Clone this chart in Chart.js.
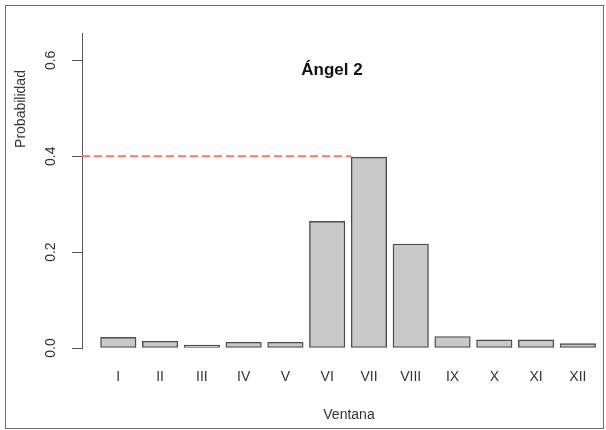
<!DOCTYPE html>
<html>
<head>
<meta charset="utf-8">
<script src="https://cdn.jsdelivr.net/npm/chart.js@4.4.1/dist/chart.umd.min.js"></script>
<style>
  html, body { margin: 0; padding: 0; background: #fff; overflow: hidden; }
  #wrap { position: relative; width: 606px; height: 430px; overflow: hidden; }
  #chart { position: absolute; left: 0; top: 0; }
  /* gray frame around the whole figure */
  #frame { position: absolute; left: 5px; top: 5px; width: 599px; height: 424px; box-sizing: border-box; border: 1.5px solid #6e6e6e; pointer-events: none; }
</style>
</head>
<body>
<div id="wrap">
  <canvas id="chart" width="616" height="430"></canvas>
  <div id="frame"></div>
</div>
<script>
// Data
const ventanas = ['I', 'II', 'III', 'IV', 'V', 'VI', 'VII', 'VIII', 'IX', 'X', 'XI', 'XII'];
const probabilidad = [0.022, 0.014, 0.006, 0.012, 0.012, 0.264, 0.398, 0.217, 0.024, 0.017, 0.017, 0.009];
const yTicks = [0, 0.2, 0.4, 0.6];
const umbral = 0.4;
const titulo = 'Ángel 2';

// x positions of the bars are just 1..12, axis limits leave the gap R puts before the first bar
const xMin = 0.131, xMax = 12.913;
const mitadBarra = 0.425; // half bar width, in x units
const idxMax = probabilidad.indexOf(Math.max(...probabilidad));

Chart.defaults.font.family = '"Liberation Sans", Arial, Helvetica, sans-serif';
Chart.defaults.font.size = 14;
Chart.defaults.color = '#333';

// title and y label are placed like in the R figure, not centred on the plot
const textos = {
  id: 'textos',
  afterDraw(chart) {
    const ctx = chart.ctx;
    ctx.save();
    ctx.fillStyle = '#111';
    ctx.textAlign = 'center';
    ctx.textBaseline = 'alphabetic';
    ctx.font = 'bold 17px "Liberation Sans", Arial, sans-serif';
    ctx.fillText(titulo, 332, 75);

    ctx.fillStyle = '#333';
    ctx.font = '14px "Liberation Sans", Arial, sans-serif';
    ctx.translate(25, 109);
    ctx.rotate(-Math.PI / 2);
    ctx.fillText('Probabilidad', 0, 0);
    ctx.restore();
  }
};

const ctx = document.getElementById('chart').getContext('2d');
new Chart(ctx, {
  type: 'bar',
  data: {
    datasets: [{
      type: 'line',
      data: [{ x: xMin, y: umbral }, { x: idxMax + 1 - mitadBarra, y: umbral }],
      borderColor: '#f47c5c',
      borderWidth: 2,
      borderDash: [8, 4],
      pointRadius: 0,
      order: 0
    }, {
      type: 'bar',
      data: probabilidad.map((v, i) => ({ x: i + 1, y: v })),
      backgroundColor: '#c9c9c9',
      borderColor: '#4d4d4d',
      borderWidth: 1.4,
      borderSkipped: false,
      barThickness: 35.5,
      order: 1
    }]
  },
  options: {
    responsive: false,
    animation: false,
    layout: { padding: { top: 33, left: 0, right: 0, bottom: 0 } },
    plugins: {
      legend: { display: false },
      tooltip: { enabled: false }
    },
    scales: {
      x: {
        type: 'linear',
        offset: false,
        min: xMin,
        max: xMax,
        grid: { display: false, drawTicks: false, offset: false },
        border: { display: false },
        afterBuildTicks: s => { s.ticks = ventanas.map((_, i) => ({ value: i + 1 })); },
        afterFit: s => { s.height = 82; s.paddingLeft = 0; s.paddingRight = 0; },
        ticks: {
          autoSkip: false,
          maxRotation: 0,
          padding: 21,
          callback: v => ventanas[Math.round(v) - 1] || ''
        },
        title: { display: true, text: 'Ventana', padding: { top: 0, bottom: 6 } }
      },
      y: {
        min: 0,
        max: 0.657,
        afterBuildTicks: s => { s.ticks = yTicks.map(v => ({ value: v })); },
        afterFit: s => { s.width = 82; },
        grid: { drawOnChartArea: false, drawTicks: true, tickLength: 10, color: '#555' },
        border: { display: true, color: '#555' },
        ticks: {
          minRotation: 90,
          maxRotation: 90,
          crossAlign: 'center',
          padding: 11,
          callback: v => v.toFixed(1)
        }
      }
    }
  },
  plugins: [textos]
});
</script>
</body>
</html>
